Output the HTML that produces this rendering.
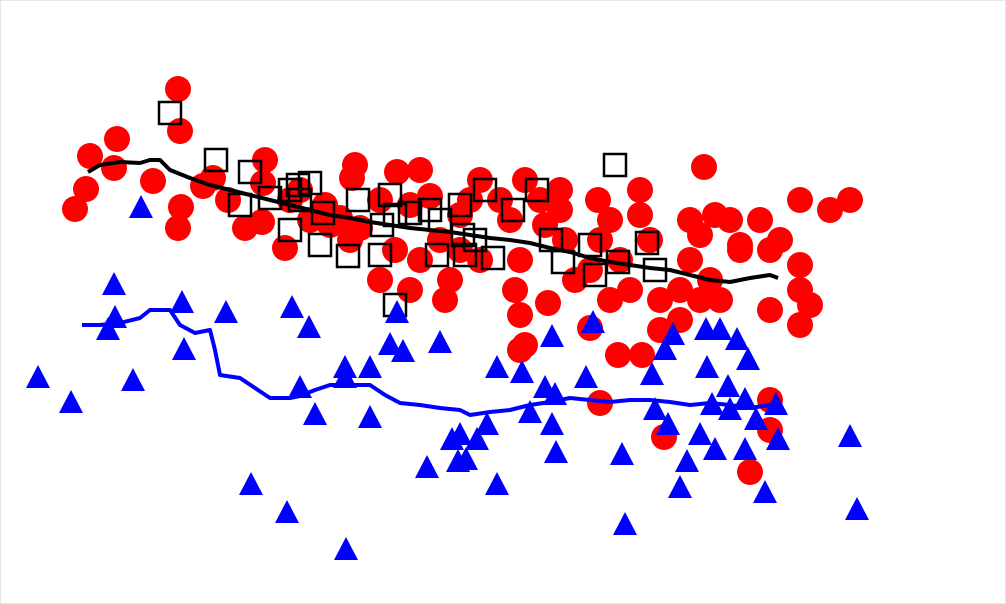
<!DOCTYPE html>
<html><head><meta charset="utf-8"><style>
html,body{margin:0;padding:0;background:#fff}
#wrap{width:1006px;height:604px;position:relative;overflow:hidden}
svg{display:block}
</style></head><body>
<div id="wrap">
<svg id="chart" width="1006" height="604">
<rect x="0.5" y="0.5" width="1005" height="603" fill="#fff" stroke="#e6e6e6"/>
</svg>
</div>
<script>
// data in data units: x = px/10, y = (604-py)/10
const redX=[17.8,11.7,9.0,11.4,15.3,8.6,7.5,18.0,18.1,17.8,20.3,21.3,22.8,24.5,26.5,26.3,26.2,28.5,30.0,32.5,34.0,35.5,35.2,36.0,38.0,39.7,42.0,41.0,43.0,39.5,42.0,44.0,45.0,44.5,38.0,41.0,46.0,48.0,50.0,51.0,52.5,54.0,56.0,56.0,56.5,52.0,51.5,52.0,54.8,52.5,52.0,59.8,61.0,64.0,64.0,60.0,62.0,63.0,61.0,59.0,61.8,64.2,66.0,68.0,70.4,69.0,70.0,69.0,71.0,72.0,74.0,76.0,78.0,80.0,83.0,85.0,80.0,80.0,81.0,80.0,77.0,77.0,70.0,66.0,60.0,66.4,77.0,75.0,77.0,71.5,73.0,74.0,48.0,46.0,35.0,33.0,31.0,29.0,47.0,54.5,57.5,59.0,68.0,65.0];
const redY=[51.5,46.5,44.8,43.6,42.3,41.5,39.5,47.3,39.7,37.6,41.8,42.6,40.4,37.6,44.4,42.1,38.2,35.6,41.4,39.9,38.6,43.9,42.6,37.6,40.4,43.2,43.4,39.9,40.8,35.4,34.4,36.4,32.4,30.4,32.4,31.4,38.9,42.4,40.4,38.4,42.4,40.4,41.4,39.4,36.4,34.4,31.4,28.9,30.1,25.9,25.4,40.4,38.4,41.4,38.9,36.4,34.4,31.4,30.4,27.6,24.9,24.9,27.4,28.4,43.7,38.4,36.9,34.4,32.4,30.4,35.4,38.4,36.4,40.4,39.4,40.4,33.9,31.4,29.9,27.9,29.4,35.4,30.4,30.4,20.1,16.7,20.4,13.2,17.4,38.9,38.4,35.9,34.4,35.4,36.4,37.9,38.4,40.4,40.4,37.9,32.4,33.4,31.4,36.4];
const sqX=[17.0,21.6,25.0,24.0,29.0,29.8,31.0,30.0,29.0,32.0,32.3,34.8,35.8,38.2,38.0,39.0,39.5,41.0,43.0,43.7,46.0,46.3,46.5,47.5,48.5,49.3,51.3,53.7,55.1,56.3,59.0,59.5,61.5,61.8,64.7,65.5,39.5,27.0,44.0];
const sqY=[49.1,44.4,43.2,39.9,41.4,41.9,42.1,40.4,37.4,35.9,39.1,34.8,40.4,37.9,34.9,40.9,38.9,39.1,39.4,34.9,39.9,36.9,34.9,36.4,41.4,34.6,39.4,41.4,36.4,34.2,35.9,32.9,43.9,34.2,36.1,33.4,29.9,40.6,38.4];
const triX=[14.1,11.4,11.5,10.8,18.2,18.4,22.6,13.3,3.8,7.1,29.2,30.9,30.0,31.5,34.5,34.5,37.0,37.0,39.7,39.0,40.3,44.0,49.7,52.2,55.2,54.5,55.5,53.0,55.2,55.6,48.7,47.7,46.0,45.2,46.6,45.8,42.7,49.7,59.3,58.6,62.2,62.5,65.2,65.5,66.5,67.3,66.8,70.6,72.0,73.7,74.8,70.7,72.8,71.2,73.0,74.5,75.6,77.6,77.8,70.0,71.5,74.5,68.7,68.0,76.5,85.0,85.7,25.1,28.7,34.6];
const triY=[39.6,31.9,28.6,27.4,30.1,25.4,29.1,22.3,22.6,20.1,29.6,27.6,21.6,18.9,23.6,22.6,23.6,18.6,29.1,25.9,25.2,26.1,23.6,23.1,26.7,21.6,20.9,19.1,17.9,15.1,17.9,16.4,16.9,16.4,14.4,14.2,13.6,11.9,28.1,22.6,14.9,7.9,22.9,19.4,25.4,26.9,17.9,27.4,27.4,26.4,24.4,23.6,21.7,19.9,19.4,20.4,18.4,19.9,16.4,16.9,15.4,15.4,14.2,11.6,11.1,16.7,9.4,11.9,9.1,5.4];
const blackLineX=[8.8,10,12,14,15,16,17,19,21,23,25,27,29,31,33,35,37,39,41,43,45,47,49,51,53,55,57,59,61,63,65,67,69,71,73,75,77,77.8];
const blackLineY=[43.2,43.9,44.2,44.1,44.4,44.4,43.4,42.6,41.9,41.4,40.9,40.4,39.9,39.4,38.9,38.6,38.2,37.9,37.6,37.4,37.2,36.9,36.6,36.4,36.1,35.6,35.2,34.6,34.2,33.9,33.6,33.4,32.9,32.4,32.2,32.6,32.9,32.6];
const blueLineX=[8.2,10,12,14,15,17,18,19.5,21,21.5,22,24,25.5,27,29,30,31.5,33,35,37,38.5,40,42,44,46,47,49,51,53,55,57,59,61,63,65,67,69,71,73,75,77];
const blueLineY=[27.9,27.9,28.1,28.6,29.4,29.4,27.9,27.1,27.4,25.4,22.9,22.6,21.6,20.6,20.6,20.8,21.4,21.9,21.9,21.9,20.9,20.1,19.9,19.6,19.4,18.9,19.2,19.4,19.9,20.2,20.6,20.4,20.2,20.4,20.4,20.2,19.9,20.1,19.9,19.6,19.9];
const xs=v=>v*10, ys=v=>604-v*10;
const NS='http://www.w3.org/2000/svg', svg=document.getElementById('chart');
function line(X,Y,color,name){
  const p=document.createElementNS(NS,'polyline');
  p.setAttribute('points',X.map((x,i)=>xs(x)+','+ys(Y[i])).join(' '));
  p.setAttribute('fill','none');p.setAttribute('stroke',color);p.setAttribute('stroke-width','4');p.setAttribute('stroke-linejoin','round');
  
  
  svg.appendChild(p);
}
redX.forEach((x,i)=>{
  const c=document.createElementNS(NS,'circle');
  c.setAttribute('cx',xs(x));c.setAttribute('cy',ys(redY[i]));c.setAttribute('r',13);c.setAttribute('fill','#ff0000');
  
  
  svg.appendChild(c);
});
sqX.forEach((x,i)=>{
  const r=document.createElementNS(NS,'rect');
  r.setAttribute('x',xs(x)-11);r.setAttribute('y',ys(sqY[i])-11);r.setAttribute('width',22);r.setAttribute('height',22);
  r.setAttribute('fill','none');r.setAttribute('stroke','#000');r.setAttribute('stroke-width','2.5');
  
  
  svg.appendChild(r);
});
line(blackLineX,blackLineY,'#000','black-trend-line');
triX.forEach((x,i)=>{
  const cx=xs(x),cy=ys(triY[i]);
  const t=document.createElementNS(NS,'polygon');
  t.setAttribute('points',`${cx},${cy-13} ${cx-12},${cy+10} ${cx+12},${cy+10}`);
  t.setAttribute('fill','#0000ff');
  
  
  svg.appendChild(t);
});
line(blueLineX,blueLineY,'#0000ff','blue-trend-line');
</script>
</body></html>
